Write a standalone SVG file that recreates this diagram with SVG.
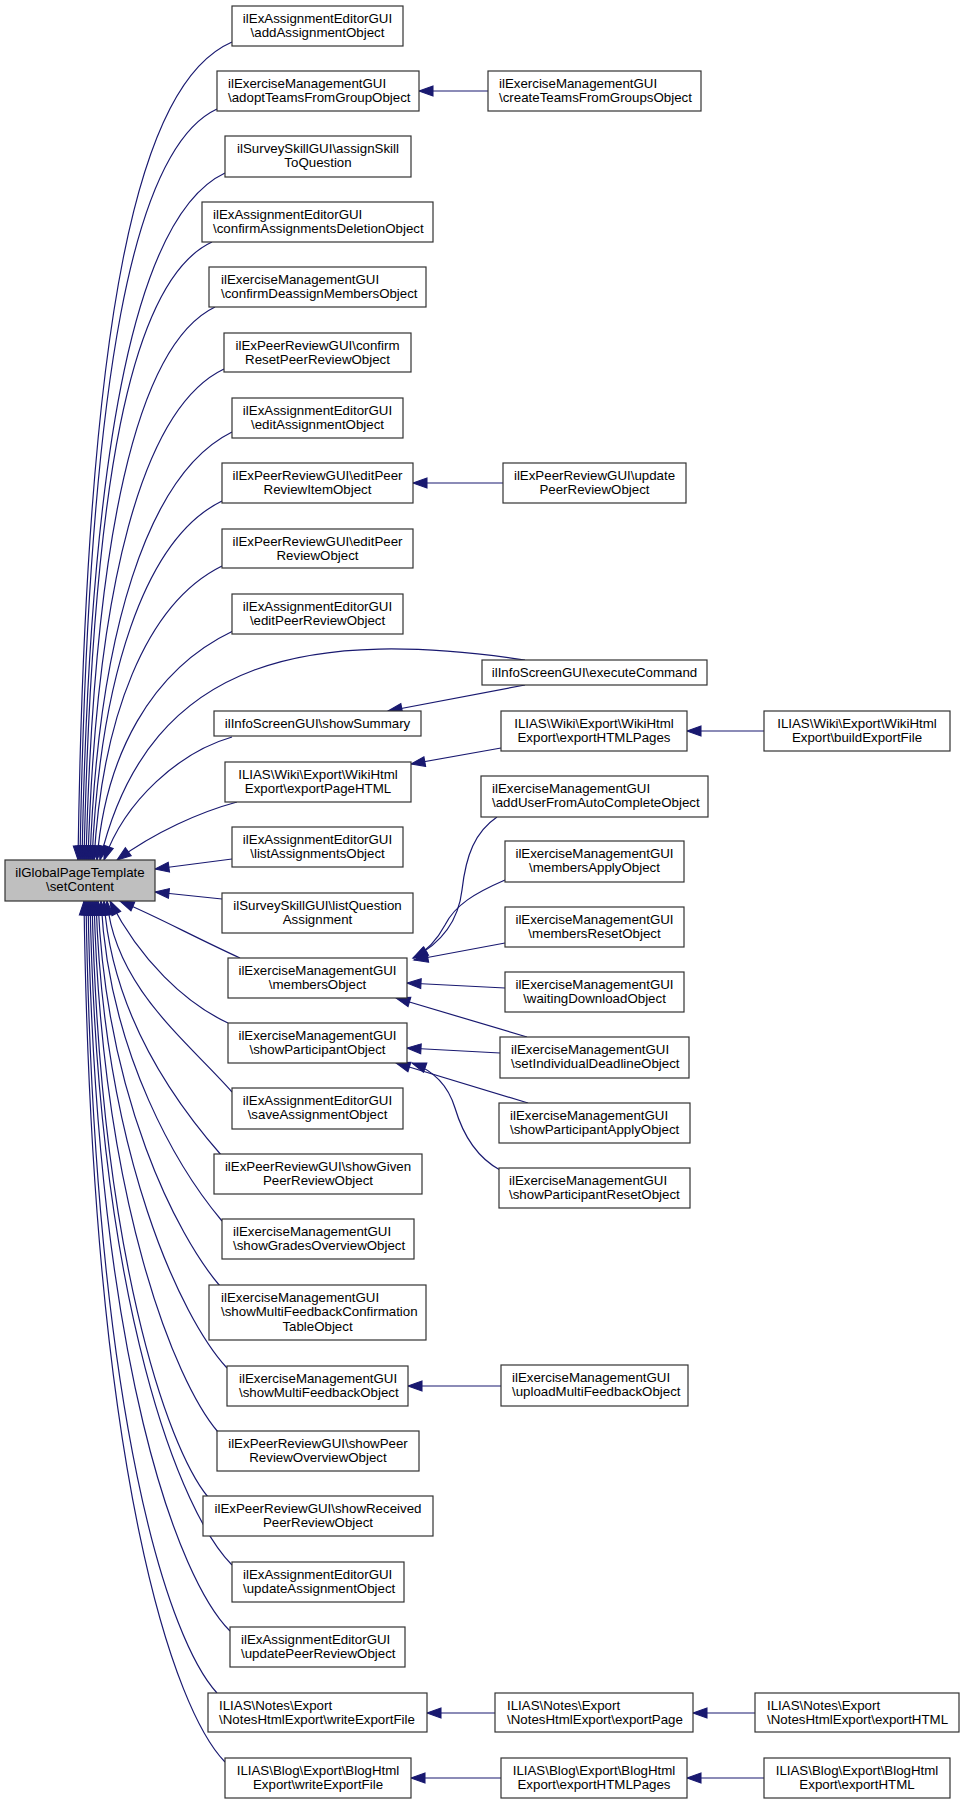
<svg xmlns="http://www.w3.org/2000/svg" width="964" height="1804" viewBox="0 0 964 1804">
<style>
.node rect{fill:#fff;stroke:#333;stroke-width:1.2}
.node text{font-family:"Liberation Sans",Arial,Helvetica,sans-serif;font-size:13.3px;fill:#000}
.c{text-anchor:middle}
.l{text-anchor:start}
#edges path{fill:none;stroke:#191970;stroke-width:1.2;marker-end:url(#arr)}
</style>
<defs>
<marker id="arr" markerUnits="userSpaceOnUse" markerWidth="14" markerHeight="10" refX="13.3" refY="4.65" orient="auto" viewBox="0 0 13.3 9.3" overflow="visible">
<path d="M0,0 L13.3,4.65 L0,9.3 z" fill="#191970" stroke="#191970" stroke-width="1"/>
</marker>
</defs>
<rect x="0" y="0" width="964" height="1804" fill="#fff"/>
<g id="edges">
<path d="M232,42 C139.6,82 86,304 78,860"/>
<path d="M217,109 C134.8,147 88,368 80,860"/>
<path d="M225,173 C139.2,213 90,429 82,860"/>
<path d="M212,242 C130,280 92,485 84,860"/>
<path d="M215,307 C136,345 94,539 86,860"/>
<path d="M224,369 C142,408 96,588 88,860"/>
<path d="M232,432 C147,474 98,635 90,860"/>
<path d="M222,501 C144,539 100,679 92,860"/>
<path d="M222,566 C145,604 102,719 94,860"/>
<path d="M233,631 C151,670 105,756 97,860"/>
<path d="M525,660 C320,630 150,650 100,860"/>
<path d="M232,737 C180,752 125,800 104,860"/>
<path d="M237,802 C200,812 155,832 117,860"/>
<path d="M232,859 L155,869"/>
<path d="M222,899 L155,892"/>
<path d="M240,958 C190,935 160,918 120,901"/>
<path d="M228,1023 C185,1003 140,960 110,901"/>
<path d="M232,1092 C188,1042 115,987 107,901"/>
<path d="M222,1156 C178,1106 112,1018 104,901"/>
<path d="M222,1221 C180,1171 109,1056 101,901"/>
<path d="M220,1286 C177,1236 106,1097 98,901"/>
<path d="M227,1368 C181,1318 104,1155 96,901"/>
<path d="M218,1432 C175,1382 102,1202 94,901"/>
<path d="M208,1497 C167,1447 100,1254 92,901"/>
<path d="M232,1565 C182,1515 98,1312 90,901"/>
<path d="M230,1631 C180,1581 96,1371 88,901"/>
<path d="M217,1693 C171,1643 94,1430 86,901"/>
<path d="M225,1762 C176,1712 92,1486 84,901"/>
<path d="M488,91 L419,91"/>
<path d="M503,483 L413,483"/>
<path d="M525,685 L388,711"/>
<path d="M501,748 L411,764"/>
<path d="M764,731 L687,731"/>
<path d="M497,817 C475,832 466,855 462,890 C458,925 438,945 413,958"/>
<path d="M505,880 C475,893 455,905 445,925 C437,940 428,950 414,958"/>
<path d="M505,943 L414,960"/>
<path d="M505,988 L407,983"/>
<path d="M527,1037 L396,998"/>
<path d="M500,1053 L407,1048"/>
<path d="M528,1103 L396,1063"/>
<path d="M500,1170 C478,1158 463,1135 455,1108 C448,1085 432,1070 412,1063"/>
<path d="M501,1386 L408,1386"/>
<path d="M495,1713 L427,1713"/>
<path d="M755,1713 L693,1713"/>
<path d="M501,1778 L411,1778"/>
<path d="M764,1778 L687,1778"/>
</g>
<g id="root" class="node"><rect x="5" y="860" width="150" height="41" style="fill:#bfbfbf"/><text class="c" x="80" y="876.5">ilGlobalPageTemplate</text><text class="c" x="80" y="891.3">\setContent</text></g>
<g id="n1" class="node"><rect x="232" y="6" width="171" height="40"/><text class="c" x="317.5" y="22.5">ilExAssignmentEditorGUI</text><text class="c" x="317.5" y="37.3">\addAssignmentObject</text></g>
<g id="n2" class="node"><rect x="217" y="71" width="202" height="40"/><text class="l" x="228" y="87.5">ilExerciseManagementGUI</text><text class="l" x="228" y="102.3">\adoptTeamsFromGroupObject</text></g>
<g id="n3" class="node"><rect x="225" y="136" width="186" height="41"/><text class="c" x="318" y="152.5">ilSurveySkillGUI\assignSkill</text><text class="c" x="318" y="167.3">ToQuestion</text></g>
<g id="n4" class="node"><rect x="202" y="202" width="231" height="40"/><text class="l" x="213" y="218.5">ilExAssignmentEditorGUI</text><text class="l" x="213" y="233.3">\confirmAssignmentsDeletionObject</text></g>
<g id="n5" class="node"><rect x="209" y="267" width="217" height="40"/><text class="l" x="221" y="283.5">ilExerciseManagementGUI</text><text class="l" x="221" y="298.3">\confirmDeassignMembersObject</text></g>
<g id="n6" class="node"><rect x="224" y="333" width="187" height="39"/><text class="c" x="317.5" y="349.5">ilExPeerReviewGUI\confirm</text><text class="c" x="317.5" y="364.3">ResetPeerReviewObject</text></g>
<g id="n7" class="node"><rect x="232" y="398" width="171" height="40"/><text class="c" x="317.5" y="414.5">ilExAssignmentEditorGUI</text><text class="c" x="317.5" y="429.3">\editAssignmentObject</text></g>
<g id="n8" class="node"><rect x="222" y="463" width="191" height="40"/><text class="c" x="317.5" y="479.5">ilExPeerReviewGUI\editPeer</text><text class="c" x="317.5" y="494.3">ReviewItemObject</text></g>
<g id="n9" class="node"><rect x="222" y="529" width="191" height="39"/><text class="c" x="317.5" y="545.5">ilExPeerReviewGUI\editPeer</text><text class="c" x="317.5" y="560.3">ReviewObject</text></g>
<g id="n10" class="node"><rect x="232" y="594" width="171" height="40"/><text class="c" x="317.5" y="610.5">ilExAssignmentEditorGUI</text><text class="c" x="317.5" y="625.3">\editPeerReviewObject</text></g>
<g id="n11" class="node"><rect x="214" y="711" width="207" height="25"/><text class="c" x="317.5" y="727.5">ilInfoScreenGUI\showSummary</text></g>
<g id="n12" class="node"><rect x="225" y="762" width="186" height="40"/><text class="c" x="318" y="778.5">ILIAS\Wiki\Export\WikiHtml</text><text class="c" x="318" y="793.3">Export\exportPageHTML</text></g>
<g id="n13" class="node"><rect x="232" y="827" width="171" height="40"/><text class="c" x="317.5" y="843.5">ilExAssignmentEditorGUI</text><text class="c" x="317.5" y="858.3">\listAssignmentsObject</text></g>
<g id="n14" class="node"><rect x="222" y="893" width="191" height="40"/><text class="c" x="317.5" y="909.5">ilSurveySkillGUI\listQuestion</text><text class="c" x="317.5" y="924.3">Assignment</text></g>
<g id="n15" class="node"><rect x="228" y="958" width="179" height="40"/><text class="c" x="317.5" y="974.5">ilExerciseManagementGUI</text><text class="c" x="317.5" y="989.3">\membersObject</text></g>
<g id="n16" class="node"><rect x="228" y="1023" width="179" height="40"/><text class="c" x="317.5" y="1039.5">ilExerciseManagementGUI</text><text class="c" x="317.5" y="1054.3">\showParticipantObject</text></g>
<g id="n17" class="node"><rect x="232" y="1088" width="171" height="41"/><text class="c" x="317.5" y="1104.5">ilExAssignmentEditorGUI</text><text class="c" x="317.5" y="1119.3">\saveAssignmentObject</text></g>
<g id="n18" class="node"><rect x="214" y="1154" width="208" height="40"/><text class="c" x="318" y="1170.5">ilExPeerReviewGUI\showGiven</text><text class="c" x="318" y="1185.3">PeerReviewObject</text></g>
<g id="n19" class="node"><rect x="222" y="1219" width="192" height="40"/><text class="l" x="233" y="1235.5">ilExerciseManagementGUI</text><text class="l" x="233" y="1250.3">\showGradesOverviewObject</text></g>
<g id="n20" class="node"><rect x="209" y="1285" width="217" height="55"/><text class="l" x="221" y="1301.5">ilExerciseManagementGUI</text><text class="l" x="221" y="1316.3">\showMultiFeedbackConfirmation</text><text class="c" x="317.5" y="1331.1">TableObject</text></g>
<g id="n21" class="node"><rect x="227" y="1366" width="181" height="40"/><text class="l" x="239" y="1382.5">ilExerciseManagementGUI</text><text class="l" x="239" y="1397.3">\showMultiFeedbackObject</text></g>
<g id="n22" class="node"><rect x="217" y="1431" width="202" height="40"/><text class="c" x="318" y="1447.5">ilExPeerReviewGUI\showPeer</text><text class="c" x="318" y="1462.3">ReviewOverviewObject</text></g>
<g id="n23" class="node"><rect x="203" y="1496" width="230" height="40"/><text class="c" x="318" y="1512.5">ilExPeerReviewGUI\showReceived</text><text class="c" x="318" y="1527.3">PeerReviewObject</text></g>
<g id="n24" class="node"><rect x="232" y="1562" width="172" height="40"/><text class="l" x="243" y="1578.5">ilExAssignmentEditorGUI</text><text class="l" x="243" y="1593.3">\updateAssignmentObject</text></g>
<g id="n25" class="node"><rect x="230" y="1627" width="175" height="40"/><text class="l" x="241" y="1643.5">ilExAssignmentEditorGUI</text><text class="l" x="241" y="1658.3">\updatePeerReviewObject</text></g>
<g id="n26" class="node"><rect x="208" y="1693" width="219" height="39"/><text class="l" x="219" y="1709.5">ILIAS\Notes\Export</text><text class="l" x="219" y="1724.3">\NotesHtmlExport\writeExportFile</text></g>
<g id="n27" class="node"><rect x="225" y="1758" width="186" height="40"/><text class="c" x="318" y="1774.5">ILIAS\Blog\Export\BlogHtml</text><text class="c" x="318" y="1789.3">Export\writeExportFile</text></g>
<g id="c1" class="node"><rect x="488" y="71" width="213" height="40"/><text class="l" x="499" y="87.5">ilExerciseManagementGUI</text><text class="l" x="499" y="102.3">\createTeamsFromGroupsObject</text></g>
<g id="c2" class="node"><rect x="503" y="463" width="183" height="40"/><text class="c" x="594.5" y="479.5">ilExPeerReviewGUI\update</text><text class="c" x="594.5" y="494.3">PeerReviewObject</text></g>
<g id="c3" class="node"><rect x="482" y="660" width="225" height="25"/><text class="c" x="594.5" y="676.5">ilInfoScreenGUI\executeCommand</text></g>
<g id="c4" class="node"><rect x="501" y="711" width="186" height="40"/><text class="c" x="594" y="727.5">ILIAS\Wiki\Export\WikiHtml</text><text class="c" x="594" y="742.3">Export\exportHTMLPages</text></g>
<g id="c5" class="node"><rect x="481" y="776" width="227" height="41"/><text class="l" x="492" y="792.5">ilExerciseManagementGUI</text><text class="l" x="492" y="807.3">\addUserFromAutoCompleteObject</text></g>
<g id="c6" class="node"><rect x="505" y="841" width="179" height="41"/><text class="c" x="594.5" y="857.5">ilExerciseManagementGUI</text><text class="c" x="594.5" y="872.3">\membersApplyObject</text></g>
<g id="c7" class="node"><rect x="505" y="907" width="179" height="40"/><text class="c" x="594.5" y="923.5">ilExerciseManagementGUI</text><text class="c" x="594.5" y="938.3">\membersResetObject</text></g>
<g id="c8" class="node"><rect x="505" y="972" width="179" height="40"/><text class="c" x="594.5" y="988.5">ilExerciseManagementGUI</text><text class="c" x="594.5" y="1003.3">\waitingDownloadObject</text></g>
<g id="c9" class="node"><rect x="500" y="1037" width="189" height="41"/><text class="l" x="511" y="1053.5">ilExerciseManagementGUI</text><text class="l" x="511" y="1068.3">\setIndividualDeadlineObject</text></g>
<g id="c10" class="node"><rect x="499" y="1103" width="191" height="40"/><text class="l" x="510" y="1119.5">ilExerciseManagementGUI</text><text class="l" x="510" y="1134.3">\showParticipantApplyObject</text></g>
<g id="c11" class="node"><rect x="499" y="1168" width="191" height="40"/><text class="l" x="509" y="1184.5">ilExerciseManagementGUI</text><text class="l" x="509" y="1199.3">\showParticipantResetObject</text></g>
<g id="c12" class="node"><rect x="501" y="1365" width="187" height="41"/><text class="l" x="512" y="1381.5">ilExerciseManagementGUI</text><text class="l" x="512" y="1396.3">\uploadMultiFeedbackObject</text></g>
<g id="c13" class="node"><rect x="495" y="1693" width="198" height="39"/><text class="l" x="507" y="1709.5">ILIAS\Notes\Export</text><text class="l" x="507" y="1724.3">\NotesHtmlExport\exportPage</text></g>
<g id="c14" class="node"><rect x="501" y="1758" width="186" height="40"/><text class="c" x="594" y="1774.5">ILIAS\Blog\Export\BlogHtml</text><text class="c" x="594" y="1789.3">Export\exportHTMLPages</text></g>
<g id="d1" class="node"><rect x="764" y="711" width="186" height="40"/><text class="c" x="857" y="727.5">ILIAS\Wiki\Export\WikiHtml</text><text class="c" x="857" y="742.3">Export\buildExportFile</text></g>
<g id="d2" class="node"><rect x="755" y="1693" width="204" height="39"/><text class="l" x="767" y="1709.5">ILIAS\Notes\Export</text><text class="l" x="767" y="1724.3">\NotesHtmlExport\exportHTML</text></g>
<g id="d3" class="node"><rect x="764" y="1758" width="186" height="40"/><text class="c" x="857" y="1774.5">ILIAS\Blog\Export\BlogHtml</text><text class="c" x="857" y="1789.3">Export\exportHTML</text></g>
</svg>
